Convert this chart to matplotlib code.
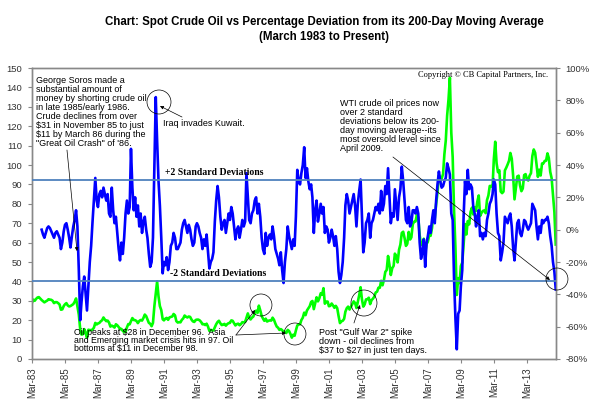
import matplotlib
matplotlib.use('Agg')
import matplotlib.pyplot as plt
import matplotlib.dates as mdates
from matplotlib.patches import Ellipse
from matplotlib.ticker import FuncFormatter
import pandas as pd

plt.rcParams['font.family'] = ['Liberation Sans', 'DejaVu Sans']

# spot crude oil, $ per barrel, monthly from Mar-1983 (left axis)
price_1983 = [29.0, 30.6, 30.0, 31.0, 31.7, 31.9, 31.1, 30.4, 29.8, 29.2]
price_rest = [
    29.7, 30.1, 30.8, 30.6, 30.5, 30.0, 28.8, 29.3, 29.3, 28.8, 28.1, 25.4,  # 1984
    25.6, 27.3, 28.2, 28.8, 27.6, 27.1, 27.3, 27.8, 28.3, 29.5, 31.2, 27.2,  # 1985
    22.9, 15.4, 12.6, 12.8, 15.4, 13.5, 11.0, 15.1, 14.9, 14.9, 15.2, 16.1,  # 1986
    18.6, 17.8, 18.3, 18.6, 19.4, 20.0, 21.4, 20.3, 19.5, 19.8, 18.8, 16.7,  # 1987
    17.2, 16.8, 16.2, 17.9, 17.4, 16.5, 15.5, 15.5, 14.5, 13.8, 14.0, 16.3,  # 1988
    18.0, 17.9, 19.5, 21.1, 20.1, 20.0, 19.6, 18.5, 19.6, 20.1, 19.8, 21.1,  # 1989
    22.9, 22.1, 20.4, 18.6, 18.2, 16.9, 18.6, 27.2, 33.7, 40.0, 32.3, 27.3,  # 1990
    25.2, 20.5, 19.9, 20.8, 21.2, 20.2, 21.4, 21.7, 21.9, 23.2, 22.5, 19.5,  # 1991
    18.8, 19.0, 18.9, 20.2, 20.9, 22.4, 21.8, 21.4, 21.9, 21.7, 20.3, 19.4,  # 1992
    19.1, 20.1, 20.3, 20.3, 19.9, 19.1, 17.9, 18.0, 17.5, 18.2, 16.7, 14.5,  # 1993
    15.0, 14.8, 14.7, 16.4, 17.9, 19.1, 19.7, 18.4, 17.5, 17.7, 18.1, 17.2,  # 1994
    18.0, 18.5, 18.6, 19.9, 19.7, 18.4, 17.3, 18.0, 18.2, 17.4, 18.0, 19.0,  # 1995
    18.9, 19.1, 21.3, 23.5, 21.2, 20.4, 21.3, 21.9, 23.9, 24.9, 23.7, 27.5,  # 1996
    25.1, 22.2, 20.9, 19.7, 20.8, 19.3, 19.7, 19.9, 19.8, 21.3, 20.2, 18.3,  # 1997
    16.7, 16.1, 15.0, 15.4, 14.9, 13.7, 14.1, 13.4, 15.0, 14.4, 12.9, 11.0,  # 1998
    12.5, 12.0, 14.7, 17.3, 17.8, 17.9, 20.1, 21.3, 23.9, 22.6, 25.0, 26.1,  # 1999
    27.2, 29.4, 29.9, 25.7, 28.8, 31.8, 29.7, 31.3, 33.9, 33.1, 36.5, 28.5,  # 2000
    29.6, 29.6, 27.2, 27.4, 28.6, 27.6, 26.4, 27.4, 26.2, 22.2, 18.5, 19.4,  # 2001
    19.7, 20.7, 24.4, 26.2, 27.0, 25.5, 26.9, 28.4, 29.7, 28.9, 26.3, 29.4,  # 2002
    32.9, 37.0, 31.0, 27.0, 28.1, 30.7, 30.8, 31.6, 28.3, 30.3, 31.1, 32.1,  # 2003
    34.3, 34.7, 36.7, 36.7, 40.3, 38.0, 40.7, 44.9, 45.9, 53.1, 48.5, 43.3,  # 2004
    46.8, 48.0, 54.3, 53.0, 49.8, 56.3, 59.0, 65.0, 65.6, 62.4, 58.3, 59.4,  # 2005
    65.5, 61.6, 62.7, 69.4, 70.8, 70.9, 74.4, 73.0, 63.8, 58.9, 59.1, 62.0,  # 2006
    54.5, 59.3, 60.4, 63.9, 63.5, 67.5, 74.1, 72.4, 79.9, 85.8, 94.8, 91.7,  # 2007
    93.0, 95.4, 105.5, 112.6, 125.4, 133.9, 145.0, 116.7, 104.1, 76.6, 57.3, 33.0,  # 2008
    41.7, 39.1, 47.9, 49.7, 59.0, 69.6, 64.2, 71.1, 69.4, 75.7, 78.0, 74.5,  # 2009
    78.3, 76.4, 81.2, 84.3, 73.7, 75.3, 76.3, 76.6, 75.2, 81.9, 84.3, 89.2,  # 2010
    89.2, 88.6, 102.9, 112.0, 100.9, 96.3, 97.3, 86.3, 85.5, 86.3, 97.2, 98.6,  # 2011
    100.3, 102.2, 106.2, 103.3, 94.7, 82.3, 87.9, 94.1, 94.5, 89.5, 86.5, 87.9,  # 2012
    94.8, 95.3, 92.9, 92.0, 94.5, 95.8, 104.6, 108.0, 106.3, 100.5, 93.9, 97.6,  # 2013
    94.6, 100.8, 100.8, 102.1, 102.2, 106.0, 103.6, 96.5, 93.2, 84.4, 75.8, 59.0,  # 2014
]
price = price_1983 + price_rest

# % deviation from 200-day moving average, monthly from Oct-1983 (right axis)
deviation = [
    0, -3, -5,  # 1983
    -2, 1, 2, 1, -1, -3, -5, -2, -1, -3, -5, -12,
    -8, -1, 3, 4, 0, -5, -11, -4, 2, 6, 12, 2,
    -25, -56, -45, -35, -29, -40, -50, -35, -20, -10, 5, 18,
    32, 18, 14, 22, 24, 20, 26, 22, 18, 22, 10, 8,
    26, 12, 4, 8, -2, -12, -19, -8, -15, -5, 10, 18,
    10, 14, 50, 26, 12, 20, 8, 15, 2, 10, -2, 5,
    8, 0, -5, -15, -23, -20, -5, 40, 82, 55, 30, 15,
    -5, -27, -20, -22, -17, -25, -20, -10, -8, -2, -5, -12,
    -12, -10, -8, 0, 4, 6, 2, -2, 3, 0, -6, -10,
    -8, 2, 4, 2, -2, -5, -12, -6, -10, -3, -14, -24,
    -20, -18, -14, 5, 18, 27, 20, 8, 0, 4, 6, -2,
    4, 10, 6, 14, 10, 2, -6, 0, 2, -5, 0, 6,
    2, 5, 35, 20, 6, 4, 10, 12, 18, 20, 10, 16,
    8, -5, -12, -15, -2, -10, -5, -3, -6, 2, -4, -12,
    -15, -18, -22, -14, -25, -33, -20, -12, 2, -4, -8, -12,
    -6, -10, 8, 37, 30, 28, 35, 40, 51, 32, 38, 30,
    25, 28, 20, -2, 12, 18, 5, 10, 16, 10, 14, -2,
    2, 0, -8, -5, 0, -4, -10, -4, -12, -26, -33, -28,
    -20, -5, 15, 22, 18, 10, 14, 18, 22, 15, 2, 16,
    24, 31, 10, -14, -8, 4, 6, 10, -5, 4, 6, 10,
    14, 12, 16, 10, 24, 12, 16, 27, 22, 38, 20, 4,
    10, 8, 25, 15, 6, 20, 25, 39, 30, 18, 6, 4,
    14, 2, 4, 12, 12, 10, 14, 10, -8, -18, -14, -6,
    -23, -8, -4, 2, -2, 6, 12, 4, 18, 28, 36, 30,
    26, 27, 30, 32, 41, 38, 34, 10, 6, -30, -55, -74,
    -52, -50, -35, -25, 8, 30, 22, 37, 25, 28, 26, 14,
    10, 2, 8, 12, -4, -2, -6, -2, -4, 6, 10, 16,
    18, 22, 31, 28, 10, -2, -4, -19, -14, -8, 8, 6,
    4, 8, 10, 2, -11, -19, -8, 4, 6, -2, -4, 0,
    6, 5, 2, 0, 2, 4, 16, 14, 12, 2, -6, 2,
    -2, 6, 4, 6, 6, 8, 4, -4, -10, -20, -26, -37,
]

plus_2sd = 31
minus_2sd = -32
tick_years = list(range(1983, 2014, 2))

price_dates = pd.date_range('1983-03-01', periods=len(price), freq='MS')
dev_dates = pd.date_range('1983-10-01', periods=len(deviation), freq='MS')

fig = plt.figure(figsize=(6, 4.08), dpi=100)
ax = fig.add_axes([0.0533, 0.1201, 0.8733, 0.7132])
ax2 = ax.twinx()

ax.plot(price_dates, price, color='#00ff00', lw=1.9)
ax2.plot(dev_dates, deviation, color='#0000ff', lw=1.9)
ax2.axhline(plus_2sd, color='#4f81bd', lw=1.3, zorder=3)
ax2.axhline(minus_2sd, color='#4f81bd', lw=1.3, zorder=3)

ax.set_xlim(pd.Timestamp('1983-03-01'), pd.Timestamp('2014-12-06'))
ax.set_ylim(0, 150)
ax.set_yticks(range(0, 151, 10))
ax2.set_ylim(-80, 100)
ax2.set_yticks(range(-80, 101, 20))
ax2.yaxis.set_major_formatter(FuncFormatter(lambda v, p: '%d%%' % v))
ax.set_xticks([pd.Timestamp('%d-03-01' % y) for y in tick_years])
ax.xaxis.set_major_formatter(mdates.DateFormatter('%b-%y'))
ax.tick_params(axis='x', labelrotation=90, labelsize=7, length=3, pad=3,
               color='#888888', labelcolor='#333333')
ax.tick_params(axis='y', labelsize=6.8, length=3, pad=4,
               color='#888888', labelcolor='#333333')
ax2.tick_params(axis='y', labelsize=6.8, length=3, pad=4,
                color='#888888', labelcolor='#333333')
for a in (ax, ax2):
    for s in a.spines.values():
        s.set_color('#888888')
        s.set_linewidth(1.0)

fig.text(0.54, 0.928,
         'Chart: Spot Crude Oil vs Percentage Deviation from its 200-Day Moving Average\n'
         '(March 1983 to Present)',
         ha='center', va='center', fontsize=8.3, fontweight='bold', linespacing=1.25)

serif = ['Liberation Serif', 'DejaVu Serif']
ax2.text(0.2538, 0.6426, '+2 Standard Deviations', transform=ax2.transAxes,
         family=serif, fontweight='bold', fontsize=7, va='center')
ax2.text(0.2634, 0.2955, '-2 Standard Deviations', transform=ax2.transAxes,
         family=serif, fontweight='bold', fontsize=7, va='center')
ax2.text(0.9847, 0.976, 'Copyright \u00a9 CB Capital Partners, Inc.', transform=ax2.transAxes,
         family=serif, fontsize=6, ha='right', va='center')

arrow = dict(xycoords='axes fraction', textcoords='axes fraction',
             arrowprops=dict(arrowstyle='-|>', color='black', lw=0.5,
                             mutation_scale=5, shrinkA=0, shrinkB=0))

ax2.text(0.0076, 0.972,
         'George Soros made a\nsubstantial amount of\nmoney by shorting crude oil\n'
         'in late 1985/early 1986.\nCrude declines from over\n\\$31 in November 85 to just\n'
         '\\$11 by March 86 during the\n"Great Oil Crash" of \'86.',
         transform=ax2.transAxes, fontsize=6.5, va='top', linespacing=1.0)
ax2.annotate('', xy=(0.0859, 0.3711), xytext=(0.0668, 0.7182), **arrow)

ax2.annotate('', xy=(0.2443, 0.8694), xytext=(0.2863, 0.8316), **arrow)
ax2.text(0.25, 0.811, 'Iraq invades Kuwait.', transform=ax2.transAxes, fontsize=6.5, va='center')

ax2.text(0.5878, 0.8935, 'WTI crude oil prices now\nover 2 standard\ndeviations below its 200-\n'
         'day moving average--its\nmost oversold level since\nApril 2009.',
         transform=ax2.transAxes, fontsize=6.5, va='top', linespacing=1.0)
ax2.annotate('', xy=(0.9885, 0.2715), xytext=(0.6889, 0.6942), **arrow)

ax2.text(0.0802, 0.1065, 'Oil peaks at \\$28 in December 96.  Asia\nand Emerging market crisis hits in 97. Oil\n'
         'bottoms at \\$11 in December 98.', transform=ax2.transAxes, fontsize=6.3,
         va='top', linespacing=0.85)
ax2.annotate('', xy=(0.4256, 0.1684), xytext=(0.3893, 0.0825), **arrow)
ax2.annotate('', xy=(0.4847, 0.0893), xytext=(0.3893, 0.0825), **arrow)

ax2.text(0.5477, 0.1065, 'Post "Gulf War 2" spike\ndown - oil declines from\n\\$37 to \\$27 in just ten days.',
         transform=ax2.transAxes, fontsize=6.5, va='top', linespacing=1.0)
ax2.annotate('', xy=(0.626, 0.1856), xytext=(0.6145, 0.1237), **arrow)

circles = [(0.2424, 0.8832, 12), (1.0019, 0.2749, 11), (0.437, 0.1856, 11),
           (0.5019, 0.0859, 11), (0.6336, 0.1924, 13)]
for cx, cy, r in circles:
    ax2.add_patch(Ellipse((cx, cy), 2 * r / 524, 2 * r / 291, transform=ax2.transAxes,
                          fill=False, edgecolor='black', lw=0.5, clip_on=False, zorder=5))

fig.savefig('out.png', dpi=100)
